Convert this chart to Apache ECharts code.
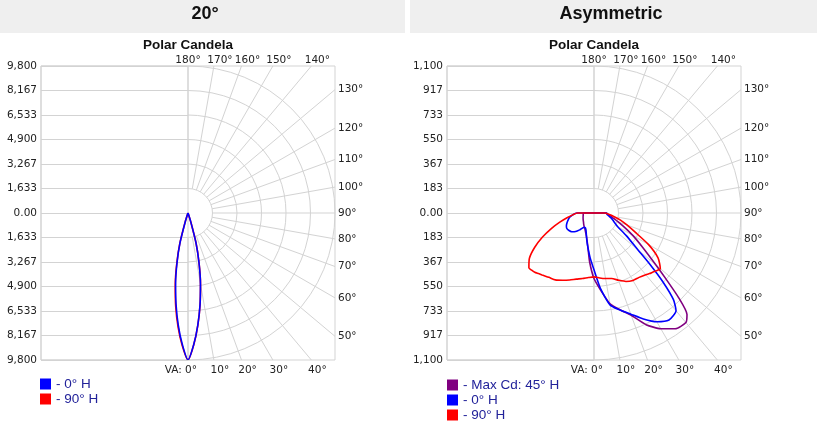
<!DOCTYPE html>
<html>
<head>
<meta charset="utf-8">
<title>Polar Candela</title>
<script src="https://cdn.jsdelivr.net/npm/echarts@6.0.0/dist/echarts.min.js"></script>
<style>
  html, body { margin: 0; padding: 0; background: #fff; }
  #main { width: 817px; height: 434px; }
</style>
</head>
<body>
<div id="main"></div>
<script>
// vertical angles (deg from nadir) and candela per horizontal plane
var va20 = [0, 2.5, 5, 7.5, 10, 12.5, 15, 17.5, 20, 22.5];
var cd20_0H   = [9800, 8780, 7500, 6150, 4780, 3380, 2060, 600, 60, 0];
var cd20_180H = [9800, 8760, 7480, 6120, 4760, 3370, 2050, 590, 60, 0];
var cd20_90H  = [9800, 8790, 7520, 6170, 4800, 3400, 2070, 610, 60, 0];
var cd20_270H = [9800, 8850, 7620, 6280, 4900, 3480, 2120, 640, 70, 0];

var vaAsym = [0, 5, 10, 15, 20, 25, 30, 35, 40, 42.5, 45, 47.5, 50, 55, 60, 65, 70, 75, 80, 85, 90, 92.5];
var asym45H  = [490, 580, 690, 750, 815, 922, 1000, 1058, 1070, 1030, 895, 730, 605, 440, 335, 250, 190, 150, 125, 105, 95, 0];
var asym225H = [490, 370, 262, 205, 172, 152, 137, 127, 118, 114, 110, 106, 103, 98, 94, 90, 87, 84, 82, 81, 80, 0];
var asym0H   = [425, 570, 700, 752, 806, 875, 940, 978, 955, 880, 730, 565, 430, 295, 205, 170, 148, 128, 108, 97, 90, 0];
var asym180H = [425, 335, 262, 209, 168, 142, 128, 130, 165, 180, 195, 208, 218, 228, 234, 228, 215, 200, 185, 160, 130, 0];
var asym90H  = [478, 488, 498, 508, 535, 565, 583, 588, 603, 615, 625, 638, 648, 585, 470, 340, 262, 205, 150, 110, 80, 0];
var asym270H = [478, 485, 498, 512, 533, 555, 578, 588, 605, 615, 627, 633, 636, 590, 512, 425, 340, 265, 205, 160, 125, 0];

// tick labels, top to bottom
var yTicks20 = ['9,800', '8,167', '6,533', '4,900', '3,267', '1,633', '0.00', '1,633', '3,267', '4,900', '6,533', '8,167', '9,800'];
var yTicksAsym = ['1,100', '917', '733', '550', '367', '183', '0.00', '183', '367', '550', '733', '917', '1,100'];
var spokeAngles = [0, 10, 20, 30, 40, 50, 60, 70, 80, 90, 100, 110, 120, 130, 140, 150, 160, 170, 180];
var spokeLabels = ['VA: 0°', '10°', '20°', '30°', '40°', '50°', '60°', '70°', '80°', '90°', '100°', '110°', '120°', '130°', '140°', '150°', '160°', '170°', '180°'];
var rings = [1, 2, 3, 4, 5, 6];

var LINE = '#d3d3d3';
var TXT = '#222';
var NAVY = '#22229a';
var SMALL = "'DejaVu Sans', Verdana, sans-serif";
var SANS = "'Liberation Sans', Arial, sans-serif";
var BOX = 294, TOP = 66;

var chart = echarts.init(document.getElementById('main'));

// left half of the plane drawn on the left, right half on the right
function plane(va, leftCd, rightCd) {
  var pts = [];
  for (var i = va.length - 1; i >= 0; i--) pts.push([leftCd[i], -va[i]]);
  for (var j = 0; j < va.length; j++) pts.push([rightCd[j], va[j]]);
  return pts;
}

var panels = [
  { left: 41, max: 9800, ticks: yTicks20, curves: [
    { name: '90° H', color: '#ff0000', data: plane(va20, cd20_270H, cd20_90H) },
    { name: '0° H', color: '#0000ff', data: plane(va20, cd20_180H, cd20_0H) }
  ] },
  { left: 447, max: 1100, ticks: yTicksAsym, curves: [
    { name: 'Max Cd: 45° H', color: '#800080', data: plane(vaAsym, asym225H, asym45H) },
    { name: '0° H', color: '#0000ff', data: plane(vaAsym, asym180H, asym0H) },
    { name: '90° H', color: '#ff0000', data: plane(vaAsym, asym270H, asym90H) }
  ] }
];

var grid = [], xAxis = [], yAxis = [], polar = [], angleAxis = [], radiusAxis = [], series = [];

panels.forEach(function (p, k) {
  // left half: candela labels and horizontal lines
  grid.push({ left: p.left, top: TOP, width: BOX / 2, height: BOX, show: true, borderColor: LINE, borderWidth: 1, outerBoundsMode: 'none' });
  xAxis.push({ gridIndex: 2 * k, type: 'value', min: -1, max: 0, show: false });
  yAxis.push({
    gridIndex: 2 * k, type: 'value', min: -6, max: 6, interval: 1,
    axisLine: { show: false }, axisTick: { show: false },
    splitLine: { lineStyle: { color: LINE, width: 1 } },
    axisLabel: {
      margin: 4, color: TXT, fontFamily: SMALL, fontSize: 10.5,
      formatter: function (v) { return p.ticks[6 - Math.round(v)]; }
    }
  });
  // whole box: polar web on the right half
  grid.push({ left: p.left, top: TOP, width: BOX, height: BOX, show: true, borderColor: LINE, borderWidth: 1, outerBoundsMode: 'none' });
  xAxis.push({ gridIndex: 2 * k + 1, type: 'value', min: -6, max: 6, show: false });
  yAxis.push({ gridIndex: 2 * k + 1, type: 'value', min: -6, max: 6, show: false });

  polar.push({ center: [p.left + BOX / 2, TOP + BOX / 2], radius: BOX / 2 });
  angleAxis.push({ polarIndex: k, type: 'value', min: -180, max: 180, startAngle: 90, clockwise: false, show: false });
  radiusAxis.push({ polarIndex: k, type: 'value', min: 0, max: p.max, show: false });

  series.push({
    type: 'custom', xAxisIndex: 2 * k + 1, yAxisIndex: 2 * k + 1, silent: true, z: 1,
    data: rings.map(function (r) { return [r, 0]; }),
    renderItem: function (params, api) {
      var c = api.coord([0, 0]);
      var r = api.size([api.value(0), 0])[0];
      return {
        type: 'arc',
        shape: { cx: c[0], cy: c[1], r: r, startAngle: -Math.PI / 2, endAngle: Math.PI / 2, clockwise: true },
        style: { stroke: LINE, fill: 'none', lineWidth: 1 }
      };
    }
  });

  series.push({
    type: 'custom', xAxisIndex: 2 * k + 1, yAxisIndex: 2 * k + 1, silent: true, z: 1,
    data: spokeAngles.map(function (a) { return [a, 0]; }),
    renderItem: function (params, api) {
      var a = api.value(0) * Math.PI / 180;
      var c = api.coord([0, 0]);
      var r0 = api.size([1, 0])[0];
      var half = api.size([6, 0])[0];
      var sx = Math.sin(a), sy = Math.cos(a);
      if (Math.abs(sx) < 1e-9) sx = 0;
      if (Math.abs(sy) < 1e-9) sy = 0;
      var t = half / Math.max(Math.abs(sx), Math.abs(sy));
      var x2 = c[0] + t * sx, y2 = c[1] + t * sy;
      var tx, ty, align;
      if (Math.abs(sx) > Math.abs(sy)) {
        tx = x2 + 3; ty = y2; align = 'left';
      } else if (sy > 0) {
        ty = y2 + 10;
        if (sx === 0) { tx = x2 + 9; align = 'right'; } else { tx = x2 + 6; align = 'center'; }
      } else {
        ty = y2 - 6; tx = x2 + (sx === 0 ? 0 : 6); align = 'center';
      }
      return {
        type: 'group',
        children: [
          { type: 'line', shape: { x1: c[0] + r0 * sx, y1: c[1] + r0 * sy, x2: x2, y2: y2 }, style: { stroke: LINE, lineWidth: 1 } },
          { type: 'text', x: tx, y: ty, style: { text: spokeLabels[params.dataIndex], fill: TXT, fontSize: 10.5, fontFamily: SMALL, align: align, verticalAlign: 'middle' } }
        ]
      };
    }
  });

  p.curves.forEach(function (cv) {
    series.push({
      type: 'line', name: cv.name, coordinateSystem: 'polar', polarIndex: k,
      data: cv.data, showSymbol: false, symbol: 'none', smooth: 0.2, z: 3,
      lineStyle: { color: cv.color, width: 1.6 }, itemStyle: { color: cv.color }
    });
  });
});

var option = {
  animation: false,
  backgroundColor: '#fff',
  graphic: [
    { type: 'rect', left: 0, top: 0, shape: { width: 405, height: 33 }, style: { fill: '#efefef' } },
    { type: 'rect', left: 410, top: 0, shape: { width: 407, height: 33 }, style: { fill: '#efefef' } }
  ],
  title: [
    { text: '20°', left: 205, top: 5, textAlign: 'center', padding: 0, textStyle: { fontSize: 18, fontWeight: 'bold', color: '#111', fontFamily: SANS } },
    { text: 'Asymmetric', left: 611, top: 5, textAlign: 'center', padding: 0, textStyle: { fontSize: 18, fontWeight: 'bold', color: '#111', fontFamily: SANS } },
    { text: 'Polar Candela', left: 188, top: 38, textAlign: 'center', padding: 0, textStyle: { fontSize: 13.5, fontWeight: 'bold', color: '#111', fontFamily: SANS } },
    { text: 'Polar Candela', left: 594, top: 38, textAlign: 'center', padding: 0, textStyle: { fontSize: 13.5, fontWeight: 'bold', color: '#111', fontFamily: SANS } }
  ],
  legend: [
    { left: 40, top: 377, orient: 'vertical', icon: 'rect', itemWidth: 11, itemHeight: 11, itemGap: 1, padding: 0, selectedMode: false,
      data: ['0° H', '90° H'], formatter: function (n) { return '- ' + n; },
      textStyle: { color: NAVY, fontSize: 13.5, lineHeight: 14, fontFamily: SANS } },
    { left: 447, top: 378, orient: 'vertical', icon: 'rect', itemWidth: 11, itemHeight: 11, itemGap: 1, padding: 0, selectedMode: false,
      data: ['Max Cd: 45° H', '0° H', '90° H'], formatter: function (n) { return '- ' + n; },
      textStyle: { color: NAVY, fontSize: 13.5, lineHeight: 14, fontFamily: SANS } }
  ],
  grid: grid,
  xAxis: xAxis,
  yAxis: yAxis,
  polar: polar,
  angleAxis: angleAxis,
  radiusAxis: radiusAxis,
  series: series
};

chart.setOption(option);
</script>
</body>
</html>
